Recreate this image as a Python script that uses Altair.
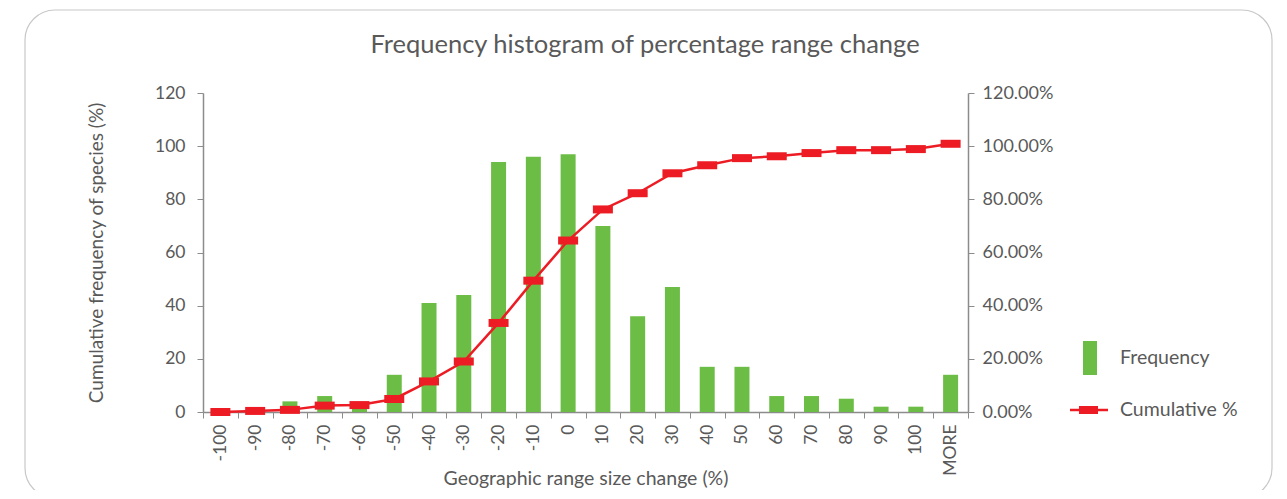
import altair as alt
import pandas as pd

categories = ["-100", "-90", "-80", "-70", "-60", "-50", "-40", "-30", "-20", "-10",
              "0", "10", "20", "30", "40", "50", "60", "70", "80", "90", "100", "MORE"]
frequency = [0, 0, 4, 6, 2, 14, 41, 44, 94, 96, 97, 70, 36, 47, 17, 17, 6, 6, 5, 2, 2, 14]
cumulative_pct = [0.0, 0.4, 0.8, 2.4, 2.6, 4.9, 11.5, 19.0, 33.5, 49.4, 64.5, 76.2,
                  82.3, 89.8, 92.8, 95.5, 96.2, 97.4, 98.5, 98.5, 98.9, 100.9]
left_ticks = [0, 20, 40, 60, 80, 100, 120]
right_ticks = [0, 20, 40, 60, 80, 100, 120]

df = pd.DataFrame({"cat": categories, "freq": frequency, "cum": cumulative_pct})

FONT = "Lato"
GREY = "#595959"
GREEN = "#6cbd45"
RED = "#ed1c24"
AX = "#8c8c8c"

W, H = 765, 319
PL, PT = 195, 85

xenc = alt.X("cat:N", sort=categories, title="Geographic range size change (%)",
             scale=alt.Scale(paddingInner=0, paddingOuter=0),
             axis=alt.Axis(labelAngle=-90, labelFontSize=17.5, tickBand="extent", tickSize=6,
                           labelPadding=6, titleY=66, titleBaseline="middle",
                           titleFontSize=19.5))

bars = alt.Chart(df).mark_bar(size=15, color=GREEN).encode(
    x=xenc,
    y=alt.Y("freq:Q", title="Cumulative frequency of species (%)",
            scale=alt.Scale(domain=[0, 120], nice=False),
            axis=alt.Axis(values=left_ticks, orient="left", tickSize=6, labelPadding=12,
                          titlePadding=48, titleFontSize=19, labelFontSize=17.5))
)

yc = alt.Y("cum:Q", title=None, scale=alt.Scale(domain=[0, 120], nice=False),
           axis=alt.Axis(values=right_ticks, orient="right", tickSize=6, labelPadding=8,
                         labelFontSize=18,
                         labelExpr="format(datum.value, '.2f') + '%'"))

line = alt.Chart(df).mark_line(color=RED, strokeWidth=2.5).encode(
    x=alt.X("cat:N", sort=categories), y=yc)
marks = alt.Chart(df).mark_tick(color=RED, size=20, thickness=8, opacity=1).encode(
    x=alt.X("cat:N", sort=categories), y=yc)
cum_layer = alt.layer(line, marks)

one = alt.Data(values=[{"a": 1}])

border = alt.Chart(one).mark_rect(fill="transparent", stroke="#c8c8c8", strokeWidth=1.2,
                                  cornerRadius=30).encode(
    x=alt.value(25 - 203), x2=alt.value(1272 - 203),
    y=alt.value(10 - 93), y2=alt.value(498 - 93))

title = alt.Chart(one).mark_text(text="Frequency histogram of percentage range change",
                                 font=FONT, fontSize=25.5, color=GREY, baseline="middle",
                                 align="center").encode(
    x=alt.value(645 - 203), y=alt.value(45 - 93))

leg_bar = alt.Chart(one).mark_rect(color=GREEN).encode(
    x=alt.value(1083 - 203), x2=alt.value(1097 - 203),
    y=alt.value(341 - 93), y2=alt.value(375 - 93))
leg_line = alt.Chart(one).mark_rule(color=RED, strokeWidth=2.5).encode(
    x=alt.value(1070 - 203), x2=alt.value(1108 - 203), y=alt.value(410 - 93))
leg_mark = alt.Chart(one).mark_rect(color=RED).encode(
    x=alt.value(1079 - 203), x2=alt.value(1098 - 203),
    y=alt.value(406 - 93), y2=alt.value(414 - 93))
leg_t1 = alt.Chart(one).mark_text(text="Frequency", font=FONT, fontSize=19.5, color=GREY,
                                  align="left", baseline="middle").encode(
    x=alt.value(1120 - 203), y=alt.value(358 - 93))
leg_t2 = alt.Chart(one).mark_text(text="Cumulative %", font=FONT, fontSize=19.5, color=GREY,
                                  align="left", baseline="middle").encode(
    x=alt.value(1120 - 203), y=alt.value(410 - 93))

chart = alt.layer(border, title, bars, cum_layer, leg_bar, leg_line, leg_mark, leg_t1, leg_t2
                  ).resolve_scale(y="independent").properties(
    width=W, height=H,
    autosize=alt.AutoSizeParams(type="none"),
    padding={"left": PL, "top": PT, "right": 1287 - 16 - PL - W - 2, "bottom": 482 - PT - H},
).configure_view(stroke=None).configure_axis(
    labelFont=FONT, titleFont=FONT, labelColor=GREY, titleColor=GREY, zindex=1,
    titleFontWeight="normal", domainColor=AX, tickColor=AX, grid=False, domainWidth=1.5
)

chart.save("out.html", embed_options={"renderer": "svg", "actions": False})
